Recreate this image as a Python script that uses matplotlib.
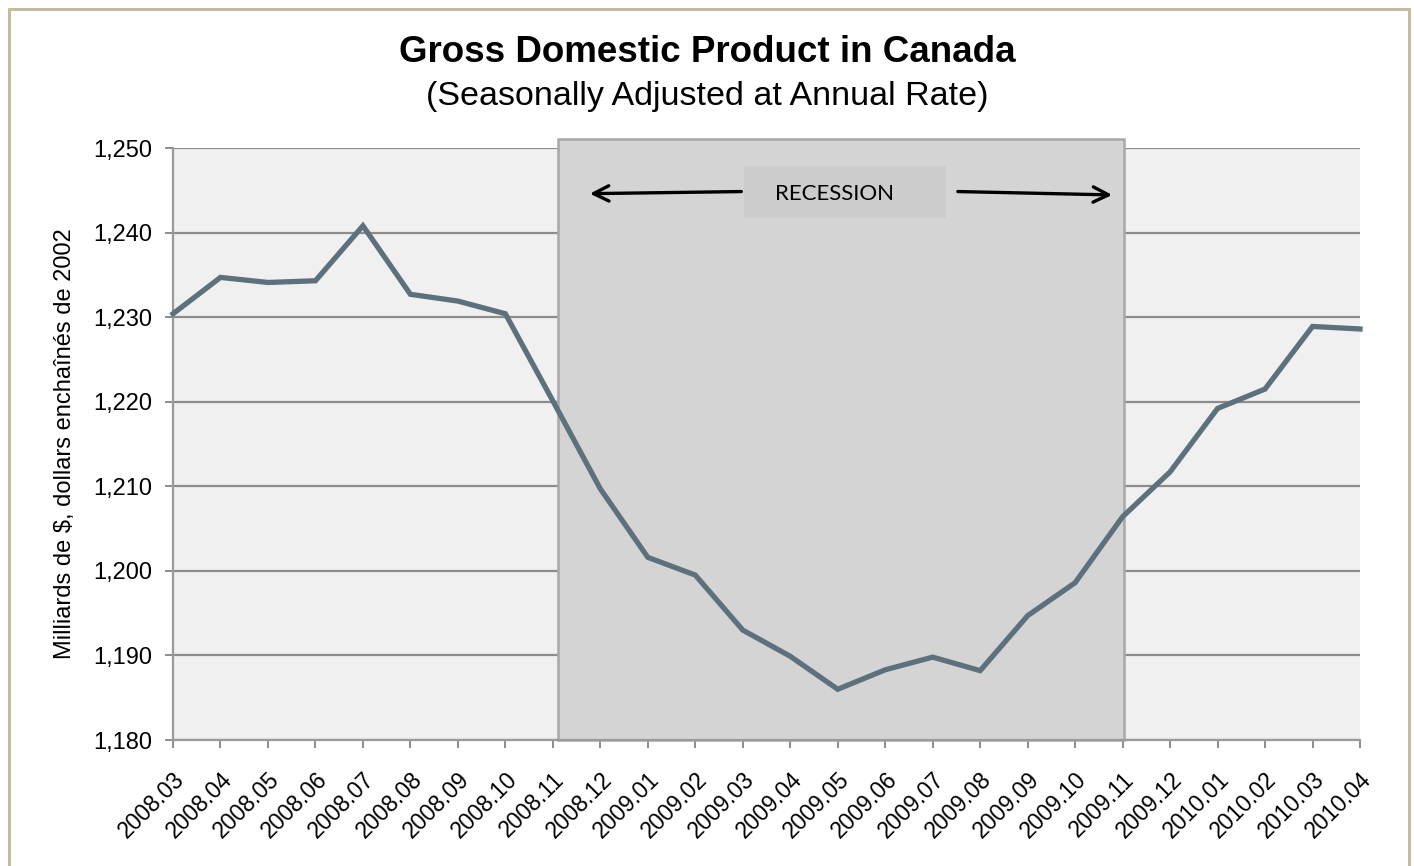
"""
    Gross Domestic Product in Canada, 2008.03 - 2010.04
"""

import numpy as np
import matplotlib
matplotlib.use('Agg')
import matplotlib.pyplot as plt
from matplotlib.patches import Rectangle
from matplotlib.ticker import FuncFormatter

months = ['2008.03', '2008.04', '2008.05', '2008.06', '2008.07', '2008.08',
          '2008.09', '2008.10', '2008.11', '2008.12', '2009.01', '2009.02',
          '2009.03', '2009.04', '2009.05', '2009.06', '2009.07', '2009.08',
          '2009.09', '2009.10', '2009.11', '2009.12', '2010.01', '2010.02',
          '2010.03', '2010.04']

gdp = [1230.4, 1234.7, 1234.1, 1234.3, 1240.8, 1232.7,
       1231.9, 1230.4, 1220.1, 1209.7, 1201.6, 1199.5,
       1193.0, 1189.9, 1186.0, 1188.3, 1189.8, 1188.2,
       1194.7, 1198.6, 1206.4, 1211.7, 1219.2, 1221.5,
       1228.9, 1228.6]

# recession band (in month index units) and label
recession_start = 8.1
recession_end = 20.03
recession_label = 'RECESSION'

fontname = 'Liberation Sans'
line_color = '#5d717d'
grid_color = '#8c8c8c'

fig = plt.figure(figsize=(14.14, 8.66), dpi=100)
ax = fig.add_axes([173/1414, 1-740/866, (1360-173)/1414, (740-148)/866])

x = np.arange(len(months))

ax.set_facecolor('#f0f0f0')
ax.set_xlim(0, len(months)-1)
ax.set_ylim(1180, 1250)
ax.set_yticks(np.arange(1180, 1251, 10))
ax.yaxis.set_major_formatter(FuncFormatter(lambda v, p: '{:,.0f}'.format(v)))
ax.grid(axis='y', color=grid_color, linewidth=1.6, zorder=1)
ax.set_axisbelow(True)

# recession shading, slightly above the plot top
band = Rectangle((recession_start, 1180), recession_end-recession_start, 71.1,
                 facecolor='#d4d4d4', edgecolor='#a8a8a8', linewidth=1.8,
                 zorder=1.5, clip_on=False)
ax.add_patch(band)

ax.plot(x, gdp, color=line_color, linewidth=3.8, solid_joinstyle='miter', zorder=3, clip_on=False)

ax.set_xticks(x)
ax.set_xticklabels(months, rotation=45, ha='right', va='top', rotation_mode='anchor',
                   fontsize=16.5, fontname=fontname)
for lab in ax.get_yticklabels():
    lab.set_fontsize(17)
    lab.set_fontname(fontname)
ax.tick_params(axis='both', color=grid_color, length=6, width=1.4, direction='out')
ax.tick_params(axis='y', pad=9)
ax.tick_params(axis='x', pad=14)

for side in ['top', 'right']:
    ax.spines[side].set_visible(False)
for side in ['left', 'bottom']:
    ax.spines[side].set_color('#9a9a9a')
    ax.spines[side].set_linewidth(1.6)

ax.set_ylabel('Milliards de $, dollars enchaînés de 2002', fontsize=17,
              fontname=fontname, labelpad=12)

# recession label box with arrows
ax.add_patch(Rectangle((12.03, 1241.72), 4.25, 6.15, facecolor='#cccccc',
                       edgecolor='none', zorder=4))
ax.text(13.94, 1244.6, recession_label, ha='center', va='center', fontsize=16,
        fontname='Lato', zorder=5)
arrow_style = dict(arrowstyle='->,head_length=1.1,head_width=0.55', color='black', lw=2.4,
                   shrinkA=0, shrinkB=0)
ax.annotate('', xy=(8.78, 1244.6), xytext=(11.97, 1244.85), arrowprops=arrow_style, zorder=5)
ax.annotate('', xy=(19.78, 1244.45), xytext=(16.53, 1244.85), arrowprops=arrow_style, zorder=5)

fig.text(0.5, 1-52/866, 'Gross Domestic Product in Canada', ha='center', va='center',
         fontsize=26.5, fontweight='bold', fontname=fontname)
fig.text(0.5, 1-97/866, '(Seasonally Adjusted at Annual Rate)', ha='center', va='center',
         fontsize=24.5, fontname=fontname)

# outer chart border
fig.add_artist(Rectangle((9/1414, -0.05), 1400/1414, 1.05-9/866, transform=fig.transFigure,
                         fill=False, edgecolor='#c4bc9e', linewidth=2.2))

fig.savefig('out.png', dpi=100)
